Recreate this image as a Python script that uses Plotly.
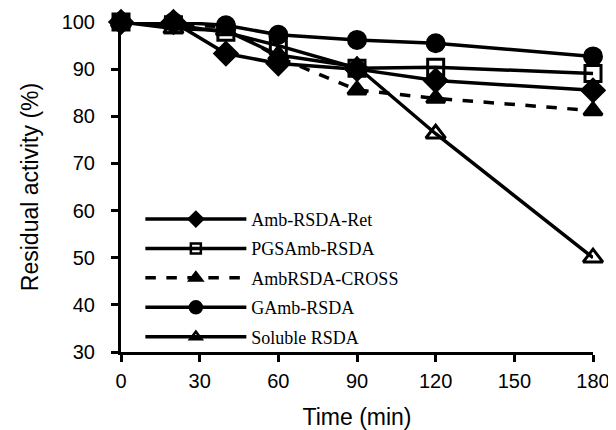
import plotly.graph_objects as go

time = [0, 20, 40, 60, 90, 120, 180]
amb_ret = [100, 100, 93.3, 91.2, 90.0, 87.6, 85.5]
pgs_amb = [100, 99.4, 97.8, 95.0, 90.2, 90.4, 89.1]
amb_cross = [100, 99.4, 99.0, 92.5, 85.6, 83.8, 81.2]
gamb = [100, 100, 99.3, 97.3, 96.2, 95.5, 92.7]
soluble = [100, 98.6, 98.2, 93.0, 90.5, 76.3, 50.0]

names = ["Amb-RSDA-Ret", "PGSAmb-RSDA", "AmbRSDA-CROSS", "GAmb-RSDA", "Soluble RSDA"]
series = [amb_ret, pgs_amb, amb_cross, gamb, soluble]
symbols = ["diamond", "square-open", "triangle-up", "circle", "triangle-up-open"]
dashes = ["solid", "solid", "dash", "solid", "solid"]
sizes = [17, 16, 16, 17, 17]
leg_sizes = [11, 10, 11, 12, 10]

fig = go.Figure()
for i, (nm, ys, sym, ds, sz) in enumerate(zip(names, series, symbols, dashes, sizes)):
    fig.add_trace(go.Scatter(
        x=time, y=ys, name=nm, mode="lines+markers",
        line=dict(color="black", width=3.5, dash=ds),
        marker=dict(symbol=sym, size=sz, color="black",
                    line=dict(color="black", width=3)),
        legendgroup=str(i), showlegend=False, cliponaxis=False,
    ))
# legend entries (smaller marker glyphs, as in the reference legend)
for i, (nm, sym, ds, sz) in enumerate(zip(names, symbols, dashes, leg_sizes)):
    fig.add_trace(go.Scatter(
        x=[None], y=[None], name=nm, mode="lines+markers",
        line=dict(color="black", width=3.5, dash=ds),
        marker=dict(symbol=sym, size=sz, color="black",
                    line=dict(color="black", width=2.5)),
        legendgroup=str(i), showlegend=True,
    ))

# page body adds an 8px offset, so the figure is 608x422 to fill the 616x430 window
fig.update_layout(
    width=608, height=422,
    margin=dict(l=113, r=23, t=14, b=78),
    paper_bgcolor="white", plot_bgcolor="white",
    showlegend=True,
    legend=dict(x=0.041, y=0.458, xanchor="left", yanchor="top",
                bgcolor="rgba(0,0,0,0)", itemwidth=101,
                font=dict(family="Liberation Serif", size=18, color="black"),
                tracegroupgap=3, traceorder="grouped"),
    font=dict(family="Liberation Sans", color="black"),
)
fig.update_xaxes(
    range=[0, 180], tickvals=[0, 30, 60, 90, 120, 150, 180],
    showline=True, linecolor="black", linewidth=3,
    ticks="outside", ticklen=7, tickwidth=3, tickcolor="black",
    showgrid=False, zeroline=False, automargin=False,
    ticklabelstandoff=2,
    tickfont=dict(family="Liberation Sans", size=20, color="black"),
    title=dict(text="Time (min)", font=dict(family="Liberation Sans", size=23, color="black"), standoff=29),
)
fig.update_yaxes(
    range=[30, 100], tickvals=[30, 40, 50, 60, 70, 80, 90, 100],
    showline=True, linecolor="black", linewidth=3,
    ticks="outside", ticklen=7, tickwidth=3, tickcolor="black",
    showgrid=False, zeroline=False, automargin=False,
    ticklabelstandoff=12,
    tickfont=dict(family="Liberation Sans", size=20, color="black"),
    title=dict(text="Residual activity (%)", font=dict(family="Liberation Sans", size=23, color="black"), standoff=17),
)
fig.write_html("out.html")
